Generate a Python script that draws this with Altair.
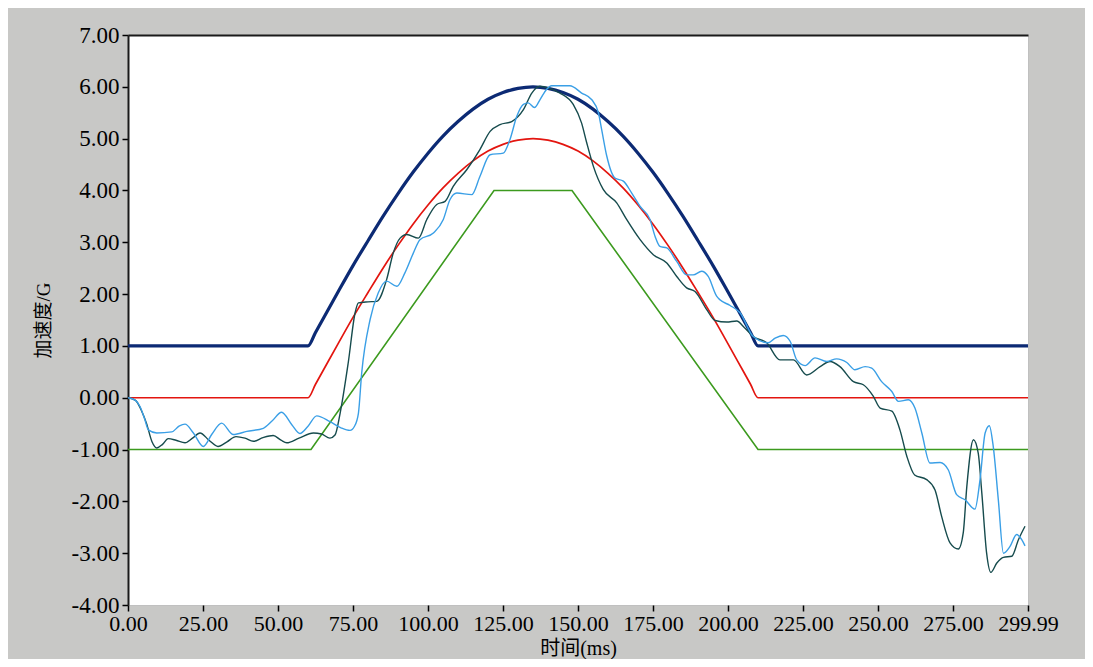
import altair as alt
import pandas as pd

# ---------------- data ----------------
x_ticks = [0, 25, 50, 75, 100, 125, 150, 175, 200, 225, 250, 275, 299.99]
y_ticks = [-4, -3, -2, -1, 0, 1, 2, 3, 4, 5, 6, 7]

# half-sine reference curves (dark blue upper limit, red nominal)
ref_t = [0, 60, 62.5, 65, 70, 75, 80, 85, 90, 95, 100, 105, 110, 115, 120, 125,
         130, 135, 140, 145, 150, 155, 160, 165, 170, 175, 180, 185, 190, 195,
         200, 205, 207.5, 210, 299.99]
blue_v = [1, 1, 1.26, 1.52, 2.04, 2.55, 3.03, 3.5, 3.94, 4.35, 4.72, 5.05, 5.33,
          5.57, 5.76, 5.89, 5.97, 6.0, 5.97, 5.89, 5.76, 5.57, 5.33, 5.05, 4.72,
          4.35, 3.94, 3.5, 3.03, 2.55, 2.04, 1.52, 1.26, 1, 1]
red_v = [0, 0, 0.26, 0.52, 1.04, 1.55, 2.03, 2.5, 2.94, 3.35, 3.72, 4.05, 4.33,
         4.57, 4.76, 4.89, 4.97, 5.0, 4.97, 4.89, 4.76, 4.57, 4.33, 4.05, 3.72,
         3.35, 2.94, 2.5, 2.03, 1.55, 1.04, 0.52, 0.26, 0, 0]

# trapezoid lower limit (green)
green_t = [0, 61, 122, 148, 210, 299.99]
green_v = [-1, -1, 4, 4, -1, -1]

# measured signal 1 (dark teal)
sig1_t = [0, 2.5, 4.5, 6.2, 8, 9.6, 11.5, 13.4, 16, 19, 21.5, 24, 27, 30, 33, 36,
          39, 41.8, 45, 48.4, 51, 52.9, 57, 61.8, 64.5, 67.3, 69, 70.7, 73.4,
          75.7, 76.8, 80, 82.9, 86.2, 88.4, 90.7, 92.9, 96.8, 99.6, 102.9, 105.7,
          108.4, 112.9, 117.3, 120.7, 124, 127.9, 131.8, 134.6, 137.3, 140.5,
          144, 148.4, 151.2, 152.9, 155.1, 158.4, 162.9, 166.2, 170.7, 175.1,
          179.6, 182.9, 186.2, 189, 192.9, 195.7, 199.6, 202.9, 205.5, 208.4,
          212.9, 217.3, 221.8, 226.2, 230.7, 234, 237.3, 241.8, 245.1, 248.4,
          250.7, 254.6, 257.3, 259.6, 262.2, 266.2, 269, 271.2, 274, 276.8,
          278.4, 279.6, 281.8, 283.4, 284.6, 286.2, 287.6, 289.6, 291.8, 294.6,
          296.8, 299]
sig1_v = [0, -0.05, -0.25, -0.5, -0.85, -0.97, -0.9, -0.79, -0.82, -0.87, -0.78,
          -0.68, -0.82, -0.94, -0.85, -0.75, -0.78, -0.84, -0.77, -0.73, -0.82,
          -0.87, -0.78, -0.68, -0.70, -0.78, -0.72, -0.3, 0.67, 1.64, 1.83, 1.85,
          1.86, 2.28, 2.79, 3.08, 3.15, 3.08, 3.44, 3.73, 3.79, 4.08, 4.40, 4.79,
          5.14, 5.27, 5.33, 5.56, 5.88, 6.01, 5.97, 5.88, 5.66, 5.30, 4.92, 4.47,
          4.02, 3.76, 3.44, 3.05, 2.76, 2.60, 2.34, 2.12, 2.05, 1.70, 1.49, 1.46,
          1.48, 1.35, 1.18, 1.06, 0.73, 0.73, 0.44, 0.60, 0.70, 0.60, 0.31, 0.25,
          0.03, -0.20, -0.26, -0.62, -1.13, -1.49, -1.58, -1.78, -2.29, -2.80,
          -2.92, -2.61, -1.71, -0.81, -1.07, -1.84, -3.00, -3.37, -3.19, -3.08,
          -3.06, -2.74, -2.48]

# measured signal 2 (light blue)
sig2_t = [0, 2.5, 4, 5.5, 6.8, 9.6, 14.6, 17, 19, 21.8, 25.1, 28, 31.2, 35.1,
          39.6, 45.1, 48, 51.2, 54.6, 57.3, 60, 62.9, 67.3, 71, 74, 75.5, 76.8,
          77.9, 80.7, 83.4, 86.2, 89.6, 92.3, 95.1, 97.3, 101.8, 105.1, 107.3,
          109.6, 114.6, 117.3, 120.7, 125.1, 127.3, 129.6, 131.8, 133.4, 135.5,
          137.3, 139.5, 141.2, 147.3, 151.2, 154.6, 156.8, 157.9, 159.6, 162.3,
          165.1, 167.9, 170.7, 174, 175.7, 177.3, 179.6, 182.9, 186.2, 188.4,
          191.2, 193.4, 196.2, 197.3, 200.7, 204, 208.4, 213.4, 215.7, 218.4,
          220.7, 222.9, 225.7, 229, 232.9, 236.2, 239.6, 242.3, 245.7, 247.9,
          251.2, 254.6, 256.8, 260.1, 262.3, 264.6, 267.3, 270.7, 273.4, 276.2,
          279, 282.3, 284, 285.7, 287.1, 288.4, 290.1, 291.8, 294, 296.2, 297.9,
          299]
sig2_v = [0, -0.05, -0.17, -0.4, -0.62, -0.68, -0.66, -0.55, -0.51, -0.68, -0.94,
          -0.7, -0.49, -0.71, -0.65, -0.59, -0.45, -0.28, -0.52, -0.69, -0.55,
          -0.35, -0.46, -0.58, -0.63, -0.55, -0.3, 0.48, 1.51, 2.02, 2.25, 2.15,
          2.41, 2.79, 3.05, 3.18, 3.44, 3.82, 3.95, 3.92, 4.27, 4.69, 4.72, 4.98,
          5.43, 5.66, 5.69, 5.60, 5.75, 5.95, 6.02, 6.02, 5.88, 5.75, 5.50, 5.17,
          4.66, 4.24, 4.18, 3.95, 3.69, 3.44, 3.11, 2.92, 2.89, 2.63, 2.37, 2.37,
          2.44, 2.34, 1.96, 1.89, 1.78, 1.64, 1.18, 1.06, 1.15, 1.20, 1.09, 0.73,
          0.62, 0.77, 0.70, 0.75, 0.68, 0.54, 0.60, 0.57, 0.31, 0.12, -0.07,
          -0.04, -0.20, -0.68, -1.26, -1.25, -1.39, -1.87, -1.97, -2.15, -1.58,
          -0.68, -0.54, -0.94, -1.97, -3.00, -2.87, -2.64, -2.74, -2.86]

# ---------------- chart ----------------
LABEL_FONT = "Liberation Serif"
TITLE_FONT = "Liberation Serif, 'Noto Sans CJK SC'"
LABEL_EXPR = ("datum.value < 0 ? '-' + format(-datum.value, '.2f') "
              ": format(datum.value, '.2f')")

def frame(ts, vs):
    return pd.DataFrame({"t": ts, "v": vs, "o": list(range(len(ts)))})

x_scale = alt.Scale(domain=[0, 299.99], nice=False, zero=False)
y_scale = alt.Scale(domain=[-4, 7], nice=False, zero=False)

x_axis = alt.Axis(values=x_ticks, labelExpr=LABEL_EXPR, title="时间(ms)", grid=False,
                  labelFont=LABEL_FONT, labelFontSize=22, labelColor="#000000",
                  labelPadding=2, labelFlush=False, labelOverlap=False,
                  tickColor="#000000", tickSize=6, tickWidth=1.5,
                  domain=False,
                  titleFont=TITLE_FONT, titleFontSize=20, titleFontWeight="normal",
                  titleColor="#000000", titlePadding=4)
y_axis = alt.Axis(values=y_ticks, labelExpr=LABEL_EXPR, title="加速度/G", grid=False,
                  labelFont=LABEL_FONT, labelFontSize=23, labelColor="#000000",
                  labelPadding=3, labelFlush=False, labelOverlap=False,
                  tickColor="#000000", tickSize=6, tickWidth=1.5,
                  domainColor="#1a1a1a", domainWidth=2,
                  titleFont=TITLE_FONT, titleFontSize=19, titleFontWeight="normal",
                  titleColor="#000000", titlePadding=18)
top_axis = alt.Axis(orient="top", labels=False, ticks=False, title=None,
                    grid=False, domainColor="#1a1a1a", domainWidth=2)


def line(df, color, width, interp, xa=x_axis):
    return alt.Chart(df).mark_line(color=color, strokeWidth=width,
                                   interpolate=interp, clip=True).encode(
        x=alt.X("t:Q", scale=x_scale, axis=xa),
        y=alt.Y("v:Q", scale=y_scale, axis=y_axis),
        order="o:Q",
    )

base = alt.layer(
    line(frame(green_t, green_v), "#3c9a1e", 1.6, "linear"),
    line(frame(ref_t, red_v), "#e3150f", 1.7, "monotone"),
    line(frame(ref_t, blue_v), "#0c2a74", 3.2, "monotone"),
    line(frame(sig1_t, sig1_v), "#164b4d", 1.4, "monotone"),
    line(frame(sig2_t, sig2_v), "#3a9fe6", 1.4, "monotone"),
)
topline = alt.Chart(frame([0, 299.99], [7, 7])).mark_line(
    color="#ffffff", strokeWidth=0, opacity=0).encode(
    x=alt.X("t:Q", scale=x_scale, axis=top_axis),
    y=alt.Y("v:Q", scale=y_scale, axis=y_axis),
)

chart = alt.layer(base, topline).resolve_axis(x="independent").properties(
    width=900,
    height=570,
    autosize=alt.AutoSizeParams(type="none"),
    padding={"left": 120, "top": 27, "right": 57, "bottom": 54},
    background="#c8c8c6",
).configure_view(fill="#ffffff", stroke="#c0c0c0", strokeWidth=1)

chart.save("out.html", embed_options={"renderer": "svg", "actions": False})
